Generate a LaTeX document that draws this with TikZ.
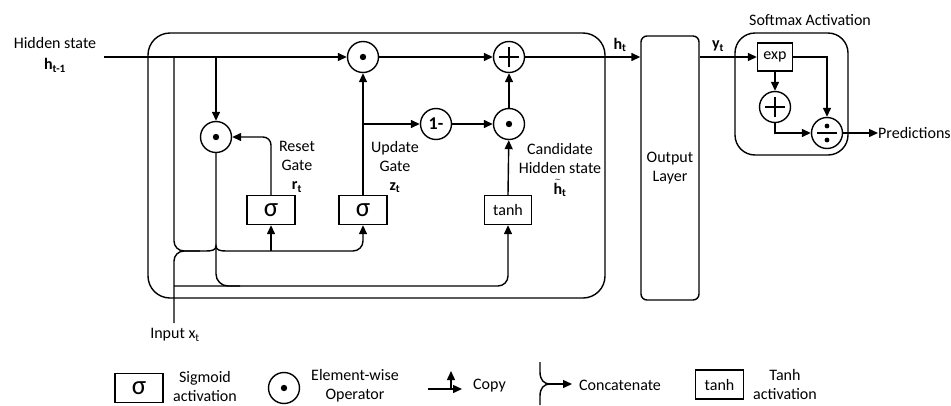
\documentclass[tikz,border=0pt]{standalone}
\usepackage{fontspec}
\setmainfont{Carlito}
\usetikzlibrary{arrows.meta,calc}
\begin{document}
\begin{tikzpicture}[x=1pt,y=-1pt,
  wire/.style={line width=1.4pt},
  arr/.style={wire,-{Triangle[length=9pt,width=8pt]}},
  every node/.style={font=\fontsize{16}{19}\selectfont, align=center, inner sep=0pt},
  frame/.style={draw,line width=1.4pt},
  op/.style={frame,circle,minimum size=31pt},
  odot/.style={op,path picture={\fill (path picture bounding box.center) circle (3.2pt);}},
  oplus/.style={op,path picture={\draw[line width=2.8pt]
      ($(path picture bounding box.center)+(-10,0)$) -- ++(20,0)
      ($(path picture bounding box.center)+(0,-10)$) -- ++(0,20);}},
  odiv/.style={op,path picture={
      \draw[line width=1.6pt] ($(path picture bounding box.center)+(-10,0)$) -- ++(20,0);
      \fill ($(path picture bounding box.center)+(0,-7)$) circle (2.4pt)
            ($(path picture bounding box.center)+(0,7)$) circle (2.4pt);}},
  gbox/.style={frame,minimum width=48pt,minimum height=29pt},
  sig/.style={gbox,font=\fontsize{27}{27}\selectfont},
]
\useasboundingbox (0,0) rectangle (951,405);

% ---------------- GRU cell ----------------
\node[frame,rounded corners=22pt,minimum width=457pt,minimum height=265pt] (cell) at (376.5,165.5) {};

\node[odot] (m1) at (363,57) {};
\node[oplus] (add) at (509,57) {};
\node[odot] (rdot) at (216,137) {};
\node[op,font=\bfseries\fontsize{18}{20}\selectfont] (one) at (436,124) {1-};
\node[odot] (cdot) at (509,124) {};
\node[sig] (sr) at (271,210) {σ};
\node[sig] (sz) at (363,210) {σ};
\node[gbox,minimum width=47pt] (th) at (508,210) {tanh};

\coordinate (hin) at (104,57);
\coordinate (ja) at (174,57);
\coordinate (jb) at (216,57);
\coordinate (xin) at (174,323);
\coordinate (xj) at (174,286);
\coordinate (zj) at (363,124);
\coordinate (cat) at (216,246);
\coordinate (catline) at (0,251);

% hidden state path
\draw[arr] (hin) -- (m1);
\draw[arr] (m1) -- (add);
\draw[arr] (jb) -- (rdot);
\draw[arr,rounded corners=8pt] (sr.north) |- (rdot.east);
\draw[arr] (sz.north) -- (m1.south);
\draw[arr] (zj) -- (one);
\draw[arr] (one) -- (cdot);
\draw[arr] (cdot) -- (add);
\draw[arr] (th.north) -- (cdot);

% concatenation of h_{t-1} and x_t
\draw[wire,rounded corners=10pt] (ja) -- (174,251) -- (206,251);
\draw[wire] (206,251) .. controls (212,251) and (216,250) .. (cat)
            .. controls (216,250) and (220,251) .. (226,251);
\draw[wire,rounded corners=10pt] (xin) -- (174,251) -- (200,251);
\draw[arr,rounded corners=10pt] (226,251) -- (sz.south |- catline) -- (sz.south);
\draw[arr] (sr.south |- catline) -- (sr.south);

% candidate input
\draw[wire,rounded corners=12pt] (rdot.south) -- (216,286) -- (240,286);
\draw[arr,rounded corners=10pt] (xj) -- (th.south |- xj) -- (th.south);

% labels inside the cell
\node (hidlab) at (55,55) {Hidden state\\[2pt]\textbf{h\textsubscript{t-1}}};
\node (rlab) at (297,167) {Reset\\Gate\\\textbf{r\textsubscript{t}}};
\node (zlab) at (395,167) {Update\\Gate\\\textbf{z\textsubscript{t}}};
\node (clab) at (560,170) {Candidate\\Hidden state\\[2pt]$\tilde{\mbox{\textbf{h}}}_{\mbox{\fontsize{11}{11}\selectfont\bfseries t}}$};
\node (xlab) at (175,335) {Input x\textsubscript{t}};

% ---------------- output layer ----------------
\node[frame,rounded corners=6pt,minimum width=58pt,minimum height=264pt] (out) at (670,168) {Output\\Layer};
\draw[arr] (add) -- (add -| out.west);
\node (htlab) at (620,45) {\textbf{h\textsubscript{t}}};

% ---------------- softmax ----------------
\node[frame,rounded corners=20pt,minimum width=113pt,minimum height=122pt] (sm) at (791.5,94) {};
\node (smlab) at (810,20) {Softmax Activation};
\node[gbox,minimum width=35pt,minimum height=28pt] (exp) at (775,57) {exp};
\node[oplus] (sadd) at (775,107) {};
\node[odiv] (div) at (827,133) {};
\node[anchor=west] (pred) at (878,133) {Predictions};

\draw[arr] (out.east |- exp) -- (exp.west);
\node (ytlab) at (718,46) {\textbf{y\textsubscript{t}}};
\draw[arr] (exp.east) -| (div.north);
\draw[arr] (exp.south) -- (sadd.north);
\draw[arr] (sadd.south) |- (div.west);
\draw[arr] (div.east) -- (pred.west);

% ---------------- legend ----------------
\node[sig] (lsig) at (139,388) {σ};
\node (lsigt) at (205,386) {Sigmoid\\activation};
\node[odot] (ldot) at (284,388) {};
\node (ldott) at (355,386) {Element-wise\\Operator};

\coordinate (cp0) at (428,389);
\coordinate (cp1) at (462,389);
\coordinate (cpv) at (451,389);
\coordinate (cpu) at (451,371);
\draw[arr] (cp0) -- (cp1);
\draw[arr] (cpv) -- (cpu);
\node[anchor=west] (cpt) at (473,386) {Copy};

\coordinate (lb1) at (540,362);
\coordinate (lb2) at (540,405);
\coordinate (ltip) at (550,384);
\coordinate (lend) at (572,384);
\draw[wire] (lb1) -- (540,372) .. controls (540,380) and (544,384) .. (ltip)
            .. controls (544,384) and (540,388) .. (540,396) -- (lb2);
\draw[arr] (ltip) -- (lend);
\node[anchor=west] (catt) at (579,385) {Concatenate};

\node[gbox] (lth) at (719.5,384.5) {tanh};
\node (ltht) at (785,384) {Tanh\\activation};
\end{tikzpicture}
\end{document}
